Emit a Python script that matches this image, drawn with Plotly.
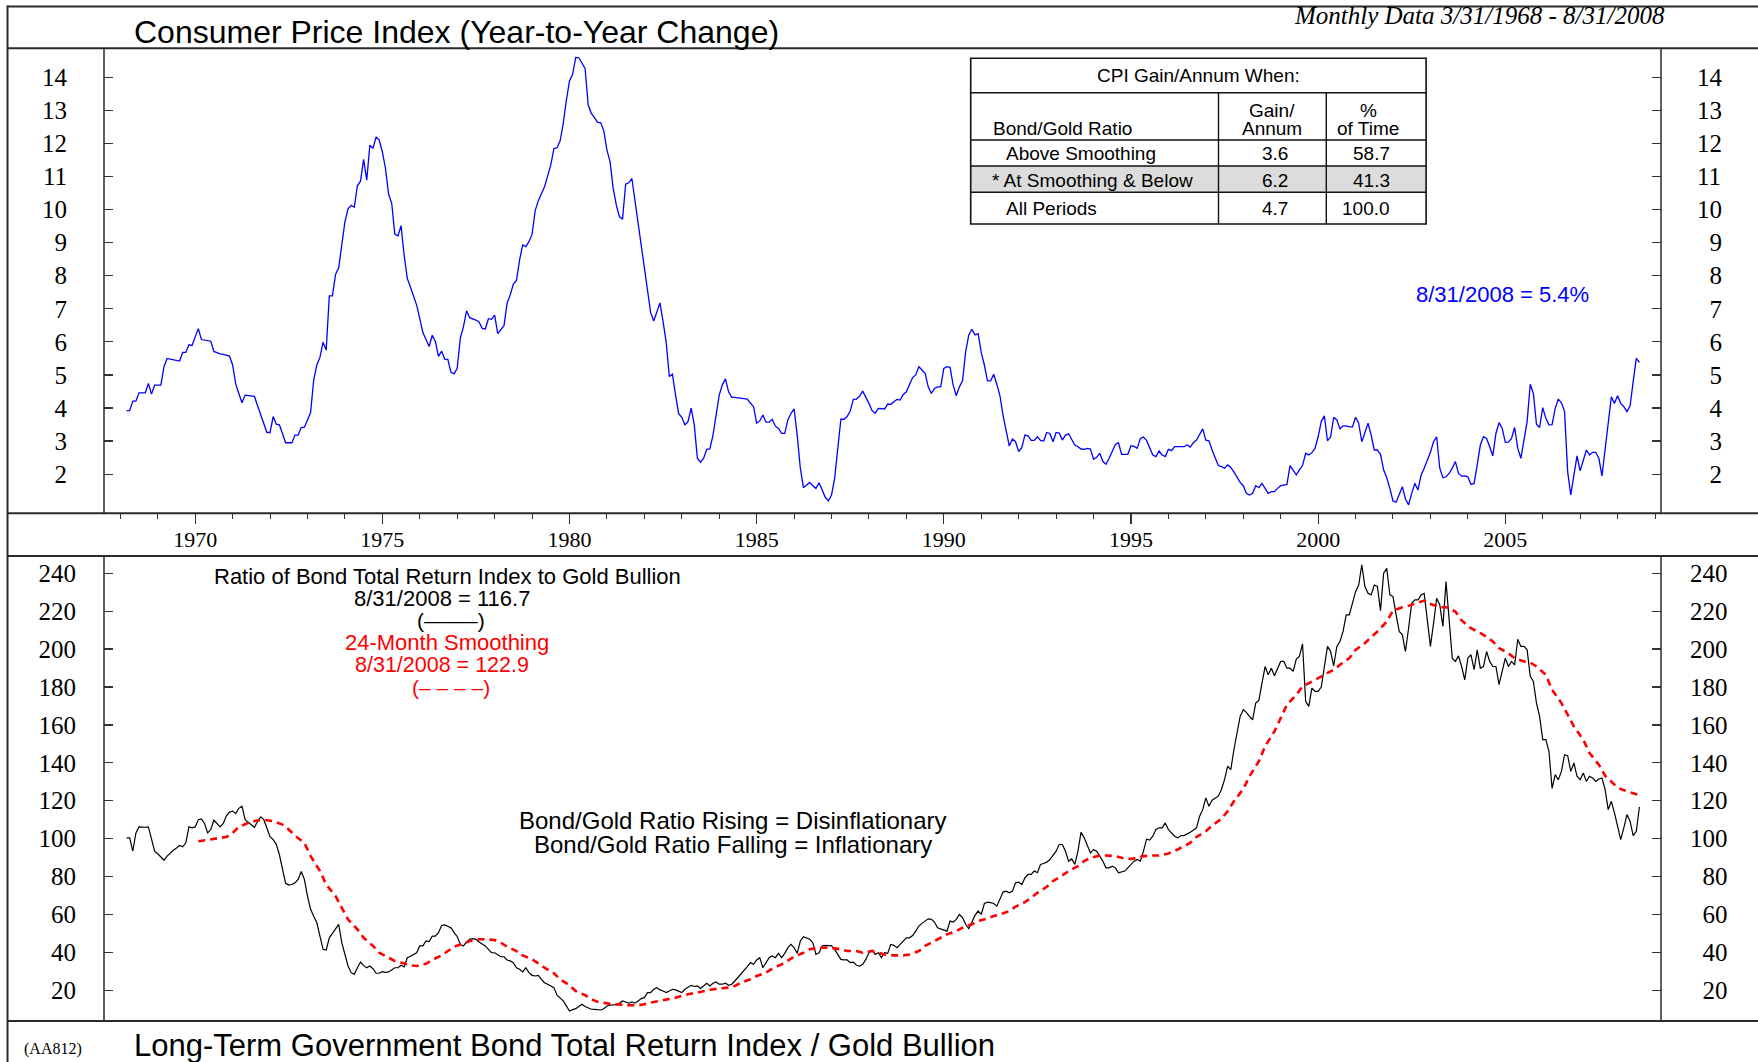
import plotly.graph_objects as go

# ---------------- data (monthly, first value = March 1968) ----------------
first_month_index = 2  # months after Jan-1968 (March 1968)

cpi_yoy = [
    3.92, 3.92, 4.21, 4.21, 4.46, 4.46, 4.46, 4.74, 4.42, 4.69,
    4.69, 4.69, 5.25, 5.50, 5.48, 5.46, 5.44, 5.42, 5.68, 5.68, 5.91, 5.89,
    6.15, 6.40, 6.07, 6.05, 6.03, 6.02, 5.71, 5.67, 5.64, 5.62, 5.60, 5.57,
    5.30, 4.72, 4.44, 4.16, 4.39, 4.38, 4.37, 4.35, 4.07, 3.79, 3.52, 3.26,
    3.26, 3.74, 3.51, 3.49, 3.22, 2.95, 2.95, 2.95, 3.18, 3.18, 3.41, 3.42,
    3.64, 3.86, 4.85, 5.30, 5.53, 5.99, 5.75, 7.39, 7.39, 8.04, 8.24, 9.03,
    9.63, 10.02, 10.13, 10.07, 10.72, 10.86, 11.52, 10.89, 11.95, 11.85, 12.20, 12.10,
    11.75, 11.25, 10.47, 10.19, 9.26, 9.20, 9.51, 8.61, 7.92, 7.66, 7.40, 7.11,
    6.70, 6.28, 6.07, 5.86, 6.20, 6.01, 5.56, 5.72, 5.48, 5.47, 5.08, 5.03,
    5.20, 6.11, 6.46, 6.94, 6.73, 6.70, 6.66, 6.60, 6.41, 6.39, 6.70, 6.68,
    6.81, 6.25, 6.37, 6.49, 7.17, 7.42, 7.75, 7.86, 8.48, 8.93, 8.88, 9.03,
    9.25, 9.97, 10.27, 10.48, 10.69, 11.02, 11.35, 11.84, 11.87, 12.08, 12.61, 13.31,
    13.89, 14.09, 14.60, 14.59, 14.43, 14.27, 13.16, 12.91, 12.78, 12.64, 12.63, 12.38,
    11.80, 11.45, 10.64, 10.14, 9.79, 9.71, 10.77, 10.81, 10.94, 10.24, 9.56, 8.88,
    8.27, 7.52, 6.89, 6.63, 6.93, 7.18, 6.61, 5.98, 4.95, 5.02, 4.39, 3.83,
    3.72, 3.49, 3.59, 4.00, 3.49, 2.48, 2.36, 2.48, 2.75, 2.76, 3.18, 3.79,
    4.39, 4.70, 4.88, 4.49, 4.32, 4.32, 4.31, 4.30, 4.29, 4.27, 4.15, 4.04,
    3.54, 3.61, 3.79, 3.57, 3.57, 3.66, 3.45, 3.38, 3.23, 3.23, 3.64, 3.84,
    3.97, 3.18, 2.18, 1.59, 1.67, 1.75, 1.65, 1.57, 1.74, 1.54, 1.30, 1.19,
    1.37, 1.87, 2.83, 3.66, 3.66, 3.74, 3.91, 4.26, 4.27, 4.36, 4.51, 4.34,
    4.14, 3.92, 3.84, 3.99, 3.98, 3.97, 4.12, 4.11, 4.19, 4.26, 4.24, 4.41,
    4.49, 4.69, 4.92, 5.00, 5.25, 5.15, 5.05, 4.64, 4.44, 4.59, 4.64, 4.64,
    5.20, 5.25, 5.23, 4.69, 4.37, 4.64, 4.82, 5.70, 6.21, 6.38, 6.21, 6.25,
    5.68, 5.30, 4.82, 4.82, 5.02, 4.72, 4.37, 3.77, 3.31, 2.85, 3.06, 2.98,
    2.68, 2.80, 3.18, 3.16, 3.02, 3.02, 3.13, 3.02, 3.00, 3.26, 3.23, 2.98,
    3.26, 3.24, 3.03, 3.18, 3.22, 3.03, 2.88, 2.83, 2.76, 2.75, 2.78, 2.76,
    2.45, 2.51, 2.63, 2.38, 2.30, 2.48, 2.70, 2.90, 2.95, 2.60, 2.60, 2.60,
    2.86, 2.84, 2.78, 3.08, 3.12, 3.02, 2.80, 2.58, 2.53, 2.70, 2.58, 2.53,
    2.75, 2.71, 2.83, 2.83, 2.82, 2.83, 2.88, 2.82, 2.95, 3.03, 3.20, 3.37,
    3.03, 3.01, 2.73, 2.48, 2.26, 2.23, 2.18, 2.28, 2.20, 2.07, 1.92, 1.75,
    1.65, 1.42, 1.37, 1.42, 1.65, 1.59, 1.72, 1.57, 1.42, 1.47, 1.47, 1.57,
    1.65, 1.67, 1.69, 2.26, 2.13, 1.98, 2.13, 2.26, 2.63, 2.58, 2.65, 2.78,
    3.13, 3.59, 3.76, 3.01, 3.13, 3.72, 3.64, 3.37, 3.46, 3.46, 3.43, 3.43,
    3.72, 3.54, 2.98, 3.28, 3.54, 3.18, 2.73, 2.73, 2.60, 2.13, 1.89, 1.57,
    1.19, 1.15, 1.37, 1.62, 1.25, 1.07, 1.42, 1.72, 1.52, 1.97, 2.18, 2.40,
    2.66, 2.98, 3.13, 2.18, 1.89, 1.92, 2.02, 2.18, 2.38, 2.02, 1.94, 1.95,
    1.92, 1.69, 1.72, 2.28, 2.88, 3.13, 3.08, 2.83, 2.55, 3.23, 3.56, 3.39,
    2.96, 2.97, 3.08, 3.41, 2.78, 2.48, 3.03, 3.59, 4.72, 4.44, 3.51, 3.41,
    4.01, 3.69, 3.49, 3.50, 3.99, 4.27, 4.16, 3.89, 2.07, 1.37, 1.97, 2.55,
    2.10, 2.43, 2.73, 2.58, 2.66, 2.66, 2.48, 1.95, 2.73, 3.54, 4.34, 4.14,
    4.37, 4.14, 4.04, 3.89, 4.06, 4.80, 5.50, 5.38,
]

bond_gold_ratio = [
    100.4, 100.4, 93.4, 103.0, 106.2, 106.0, 106.0, 106.2, 99.5, 93.4,
    92.0, 90.0, 88.6, 90.8, 92.5, 93.9, 95.0, 96.4, 95.7, 97.8, 106.2, 105.7,
    106.2, 110.0, 110.4, 108.0, 103.0, 104.8, 109.7, 107.9, 106.2, 108.0, 112.0, 114.0,
    114.5, 113.2, 116.0, 117.1, 110.0, 108.6, 107.5, 106.0, 109.0, 111.5, 110.0, 106.0,
    101.0, 99.5, 97.0, 91.5, 83.7, 76.4, 75.5, 75.8, 76.7, 78.5, 82.7, 78.5,
    69.7, 62.7, 59.0, 55.6, 48.6, 41.6, 41.2, 47.7, 50.0, 52.1, 54.8, 45.1,
    38.1, 32.8, 29.3, 28.4, 31.9, 34.9, 33.0, 31.9, 32.8, 31.4, 29.0, 29.0,
    29.8, 29.5, 29.7, 30.7, 31.9, 31.9, 33.2, 32.3, 37.2, 38.0, 38.9, 39.8,
    43.4, 43.4, 46.0, 45.7, 48.6, 48.6, 50.4, 54.2, 54.5, 53.9, 53.0, 50.4,
    48.4, 44.2, 43.4, 45.5, 46.9, 47.2, 46.9, 45.5, 44.5, 43.4, 41.6, 39.8,
    39.8, 38.8, 37.7, 37.7, 36.0, 35.5, 34.6, 31.9, 31.1, 29.7, 31.9, 29.3,
    27.9, 27.55, 27.9, 25.8, 24.0, 23.2, 22.5, 21.4, 17.4, 16.1, 14.4, 11.75,
    9.1, 9.8, 10.3, 11.4, 12.6, 11.4, 10.7, 10.0, 9.9, 9.6, 9.6, 10.3,
    11.75, 12.1, 12.1, 12.45, 13.2, 14.4, 13.8, 13.2, 13.9, 13.2, 14.4, 15.6,
    16.1, 18.8, 18.8, 20.5, 21.4, 20.2, 19.6, 18.8, 19.6, 20.5, 20.2, 19.6,
    18.8, 20.5, 21.4, 22.6, 22.0, 22.3, 20.9, 22.3, 23.7, 22.3, 23.7, 24.4,
    23.2, 23.2, 23.7, 22.6, 23.2, 24.9, 26.7, 28.4, 30.2, 32.5, 34.6, 33.7,
    36.0, 37.2, 31.9, 34.6, 37.2, 38.1, 37.2, 39.5, 37.2, 39.5, 42.5, 44.2,
    42.5, 39.5, 46.0, 48.3, 47.7, 46.9, 45.1, 38.9, 39.8, 43.4, 43.7, 43.4,
    43.4, 41.6, 38.9, 36.3, 36.0, 36.0, 34.6, 34.9, 33.2, 32.8, 33.7, 36.3,
    39.8, 41.2, 38.9, 39.8, 37.2, 39.8, 39.5, 44.2, 43.7, 42.5, 44.2, 46.0,
    47.7, 47.7, 48.9, 51.2, 53.9, 55.3, 56.5, 57.7, 57.4, 56.0, 53.0, 52.5,
    51.8, 51.2, 56.5, 56.0, 57.4, 60.0, 58.3, 54.8, 52.5, 56.5, 59.5, 61.8,
    60.0, 65.8, 66.5, 66.2, 65.8, 64.4, 68.0, 71.8, 72.3, 71.4, 72.3, 76.7,
    77.0, 75.8, 79.3, 81.1, 81.1, 82.9, 82.0, 86.4, 86.9, 87.6, 89.0, 91.1,
    93.4, 96.9, 96.9, 93.4, 88.1, 89.3, 86.4, 93.4, 103.4, 100.4, 96.0, 92.5,
    94.3, 93.4, 90.8, 88.1, 84.6, 84.6, 85.5, 84.6, 82.0, 82.3, 82.9, 84.6,
    86.4, 88.1, 89.0, 88.1, 93.4, 99.7, 99.2, 101.3, 104.8, 105.7, 105.7, 108.3,
    104.8, 103.0, 101.3, 100.4, 101.6, 101.6, 102.7, 103.4, 104.4, 105.7, 111.8, 115.3,
    121.5, 117.1, 120.3, 121.5, 122.4, 125.9, 131.1, 138.2, 136.4, 146.9, 154.8, 164.5,
    168.0, 166.6, 164.5, 162.7, 171.5, 172.9, 182.0, 190.8, 186.4, 189.9, 185.9, 189.4,
    193.5, 193.5, 189.9, 189.9, 188.2, 194.7, 196.1, 202.8, 172.4, 169.8, 179.4, 177.7,
    177.7, 180.0, 190.8, 201.4, 198.7, 191.2, 201.4, 204.0, 209.3, 218.0, 218.0, 224.2,
    230.3, 233.8, 244.4, 233.0, 229.4, 228.6, 233.8, 233.0, 220.3, 240.0, 242.6, 228.6,
    227.7, 218.0, 209.3, 207.5, 198.7, 211.0, 224.2, 226.0, 226.0, 228.6, 229.4, 215.4,
    201.4, 213.6, 226.8, 223.3, 211.9, 235.6, 217.2, 195.2, 193.5, 196.4, 190.8, 183.8,
    195.2, 197.0, 189.1, 199.6, 189.9, 190.8, 198.7, 193.5, 190.8, 190.8, 181.2, 189.1,
    195.2, 190.8, 193.5, 191.7, 205.2, 201.4, 201.4, 199.6, 185.6, 182.9, 171.5, 164.5,
    152.2, 152.2, 146.1, 126.5, 133.8, 131.1, 135.5, 144.3, 143.8, 135.5, 139.9, 132.9,
    131.1, 134.6, 130.2, 132.9, 132.0, 130.2, 131.5, 132.0, 125.9, 115.3, 119.7, 113.6,
    106.6, 99.5, 105.7, 112.7, 109.2, 101.6, 103.9, 116.7,
]

# 24-month smoothing (months after Jan-1968, value)
smooth_month = [25, 28, 31, 34, 36, 38, 41, 44, 47, 49, 52, 54, 56, 59, 61, 64, 66, 69, 71, 73,
                76, 78, 81, 83, 86, 88, 90, 93, 95, 98, 100, 103, 105, 107, 110, 112, 115, 117, 120, 122,
                124, 127, 129, 132, 134, 136, 139, 141, 144, 146, 149, 151, 153, 156, 158, 161, 163, 166, 168, 170,
                173, 175, 178, 180, 182, 185, 187, 190, 192, 195, 197, 199, 202, 204, 207, 209, 212, 214, 216, 219,
                221, 224, 226, 229, 231, 233, 236, 238, 241, 243, 245, 248, 251, 253, 256, 258, 261, 263, 265, 268,
                270, 273, 275, 278, 280, 282, 285, 287, 290, 292, 294, 297, 299, 302, 304, 307, 309, 311, 314, 316,
                319, 321, 324, 326, 328, 331, 333, 336, 338, 340, 343, 345, 348, 350, 353, 355, 357, 360, 362, 365,
                367, 370, 372, 374, 377, 379, 382, 384, 387, 389, 391, 394, 396, 399, 401, 403, 406, 408, 411, 413,
                416, 418, 420, 423, 425, 428, 430, 433, 435, 437, 440, 442, 445, 447, 450, 452, 454, 457, 459, 462,
                464, 466, 469, 471, 474, 476, 479, 481, 483, 486, 487]
smooth_value = [98.6, 99.5, 100.2, 100.9, 103.0, 106.2, 108.3, 109.7, 109.7, 109.2,
                107.4, 104.8, 101.6, 97.8, 90.8, 82.9, 75.8, 69.7, 63.5, 57.4,
                52.1, 47.7, 43.4, 39.8, 37.2, 35.5, 34.6, 33.2, 32.8, 34.0,
                36.0, 38.4, 40.7, 43.0, 44.6, 46.0, 46.9, 46.9, 46.5, 45.1,
                43.0, 40.7, 38.4, 36.3, 34.2, 31.9, 29.0, 25.8, 22.6, 19.6,
                17.4, 15.3, 13.9, 13.2, 12.6, 12.45, 12.1, 12.1, 12.6, 13.5,
                14.4, 15.3, 16.1, 17.0, 17.9, 18.8, 19.6, 20.5, 21.0, 21.4,
                22.3, 24.0, 25.8, 27.55, 29.3, 31.4, 33.7, 35.8, 37.7, 39.8,
                41.6, 42.5, 42.5, 42.1, 41.6, 40.7, 40.7, 39.8, 40.7, 39.8,
                38.9, 38.4, 38.4, 38.9, 40.7, 43.4, 46.0, 47.7, 49.5, 51.2,
                53.0, 54.8, 56.5, 57.9, 59.2, 60.0, 61.8, 64.1, 66.5, 68.8,
                71.4, 74.6, 77.6, 80.6, 82.9, 85.5, 88.1, 89.9, 91.1, 91.1,
                90.8, 89.9, 89.3, 89.9, 90.8, 91.1, 91.1, 92.2, 93.4, 95.2,
                97.8, 100.9, 103.9, 106.9, 110.4, 114.5, 119.7, 126.2, 132.9, 140.8,
                148.7, 156.6, 163.6, 170.6, 175.9, 180.3, 182.9, 184.7, 187.3, 189.1,
                191.7, 195.2, 199.6, 203.1, 206.3, 209.3, 214.5, 220.3, 222.1, 222.8,
                224.5, 225.6, 223.8, 222.1, 222.1, 219.8, 215.1, 211.0, 209.3, 207.5,
                204.0, 200.5, 197.8, 195.2, 193.5, 192.9, 190.8, 186.4, 178.5, 171.5,
                165.4, 159.2, 152.2, 145.2, 139.0, 133.2, 128.5, 126.2, 125.0, 123.2,
                122.9]

year_ticks = [1970, 1975, 1980, 1985, 1990, 1995, 2000, 2005]
cpi_ticks = [2, 3, 4, 5, 6, 7, 8, 9, 10, 11, 12, 13, 14]
ratio_ticks = [20, 40, 60, 80, 100, 120, 140, 160, 180, 200, 220, 240]

table_title = "CPI Gain/Annum When:"
table_rows = ["Above Smoothing", "* At Smoothing & Below", "All Periods"]
table_gain = ["3.6", "6.2", "4.7"]
table_pct = ["58.7", "41.3", "100.0"]

# ---------------- helpers ----------------
W, H = 1758, 1062


def px(x):
    return x / W


def py(y):
    return 1 - y / H


def month_to_year(n):
    return 1968 + n / 12.0


cpi_x = [month_to_year(first_month_index + i) for i in range(len(cpi_yoy))]
ratio_x = [month_to_year(first_month_index + i) for i in range(len(bond_gold_ratio))]
n_s = min(len(smooth_month), len(smooth_value))
smooth_x = [month_to_year(m) for m in smooth_month[:n_s]]
smooth_y = smooth_value[:n_s]

PL, PR = 104, 1661
TOP_T, TOP_B = 48.3, 513.3
BOT_T, BOT_B = 556, 1021

SERIF = "Liberation Serif"
SANS = "Liberation Sans"
AXC = "#333333"

fig = go.Figure()
fig.add_trace(go.Scatter(x=cpi_x, y=cpi_yoy, mode="lines",
                         line=dict(color="#0000ff", width=1.3),
                         xaxis="x", yaxis="y", hoverinfo="skip"))
fig.add_trace(go.Scatter(x=ratio_x, y=bond_gold_ratio, mode="lines",
                         line=dict(color="#000000", width=1.2),
                         xaxis="x2", yaxis="y2", hoverinfo="skip"))
fig.add_trace(go.Scatter(x=smooth_x, y=smooth_y, mode="lines",
                         line=dict(color="#ff0000", width=2.6, dash="7px,5px"),
                         xaxis="x2", yaxis="y2", hoverinfo="skip"))
# invisible copies so the right-hand axes are drawn
fig.add_trace(go.Scatter(x=cpi_x, y=cpi_yoy, mode="lines", line=dict(width=0),
                         opacity=0, xaxis="x", yaxis="y3", hoverinfo="skip"))
fig.add_trace(go.Scatter(x=ratio_x, y=bond_gold_ratio, mode="lines", line=dict(width=0),
                         opacity=0, xaxis="x2", yaxis="y4", hoverinfo="skip"))

xrange = [1967.564, 2009.16]
top_range = [0.816, 14.877]
bot_range = [3.8, 249.1]


def pad_labels(vals, width):
    out = []
    for v in vals:
        s = str(v)
        out.append("\u00a0\u00a0" * (width - len(s)) + s)
    return out


common_y = dict(showgrid=False, zeroline=False, showline=False, ticks="inside",
                ticklen=9, tickwidth=1.2, tickcolor=AXC,
                tickfont=dict(family=SERIF, size=25, color="#000"), fixedrange=True)

fig.update_layout(
    width=W, height=H, margin=dict(l=0, r=0, t=0, b=0),
    paper_bgcolor="white", plot_bgcolor="white", showlegend=False,
    xaxis=dict(domain=[px(PL), px(PR)], range=xrange, anchor="y",
               tickmode="array", tickvals=year_ticks, ticktext=[str(v) for v in year_ticks],
               ticks="outside", ticklen=10, tickwidth=1.2, tickcolor=AXC,
               minor=dict(dtick=1, tick0=1970, ticks="outside", ticklen=5, tickwidth=1, tickcolor=AXC),
               showgrid=False, zeroline=False, showline=False,
               tickfont=dict(family=SERIF, size=22, color="#000"), ticklabelstandoff=-4),
    xaxis2=dict(domain=[px(PL), px(PR)], range=xrange, anchor="y2", matches="x",
                showticklabels=False, ticks="", showgrid=False, zeroline=False, showline=False),
    yaxis=dict(domain=[py(TOP_B), py(TOP_T)], range=top_range, anchor="x", side="left",
               tickmode="array", tickvals=cpi_ticks, ticktext=[str(v) for v in cpi_ticks],
               ticklabelstandoff=36, **common_y),
    yaxis3=dict(range=top_range, anchor="x", overlaying="y", side="right",
                tickmode="array", tickvals=cpi_ticks, ticktext=pad_labels(cpi_ticks, 2),
                ticklabelstandoff=35, **common_y),
    yaxis2=dict(domain=[py(BOT_B), py(BOT_T)], range=bot_range, anchor="x2", side="left",
                tickmode="array", tickvals=ratio_ticks, ticktext=[str(v) for v in ratio_ticks],
                ticklabelstandoff=27, **common_y),
    yaxis4=dict(range=bot_range, anchor="x2", overlaying="y2", side="right",
                tickmode="array", tickvals=ratio_ticks, ticktext=pad_labels(ratio_ticks, 3),
                ticklabelstandoff=28, **common_y),
)

# ---------------- frame lines ----------------
shapes = []


def hline(y, x0=7, x1=W, w=2.0, color="#2a2a2a"):
    shapes.append(dict(type="line", xref="paper", yref="paper", x0=px(x0), x1=px(x1),
                       y0=py(y), y1=py(y), line=dict(color=color, width=w)))


def vline(x, y0, y1, w=2.0, color="#2a2a2a"):
    shapes.append(dict(type="line", xref="paper", yref="paper", x0=px(x), x1=px(x),
                       y0=py(y0), y1=py(y1), line=dict(color=color, width=w)))


hline(6.5)
vline(7.5, 5.5, H)
hline(TOP_T)
hline(TOP_B)
hline(BOT_T)
hline(BOT_B)
vline(PL, TOP_T, TOP_B, w=1.5)
vline(PR, TOP_T, TOP_B, w=1.5)
vline(PL, BOT_T, BOT_B, w=1.5)
vline(PR, BOT_T, BOT_B, w=1.5)

# ---------------- table ----------------
TL, TR, TT, TB = 970.7, 1426.1, 58.3, 224.0
C1, C2 = 1218.5, 1326.3
R0, R1, R2, R3 = 92.7, 140.0, 166.0, 192.3
shapes.append(dict(type="rect", xref="paper", yref="paper", x0=px(TL), x1=px(TR),
                   y0=py(R3), y1=py(R2), fillcolor="#dcdcdc", line=dict(width=0), layer="above"))
shapes.append(dict(type="rect", xref="paper", yref="paper", x0=px(TL), x1=px(TR),
                   y0=py(TB), y1=py(TT), line=dict(color="#111", width=1.6), layer="above"))
for yy in (R0, R1, R2, R3):
    hline(yy, TL, TR, w=1.4, color="#111")
vline(C1, R0, TB, w=1.4, color="#111")
vline(C2, R0, TB, w=1.4, color="#111")

fig.update_layout(shapes=shapes)

# ---------------- annotations ----------------
ann = []


def text(x, y, s, size, color="#000", family=SANS, xanchor="center"):
    ann.append(dict(x=px(x), y=py(y), xref="paper", yref="paper", text=s, showarrow=False,
                    xanchor=xanchor, yanchor="middle",
                    font=dict(family=family, size=size, color=color)))


text(132, 31.5, "Consumer Price Index (Year-to-Year Change)", 32, xanchor="left")
text(1667, 15, "<i>Monthly Data 3/31/1968 - 8/31/2008</i>", 25, family=SERIF, xanchor="right")
text(132, 1045, "Long-Term Government Bond Total Return Index / Gold Bullion", 31, xanchor="left")
text(52.6, 1049, "(AA812)", 16, family=SERIF)
text(1502, 294.3, "8/31/2008 = 5.4%", 22, color="#0000ff")

TF = 19
text(1198.4, 76, table_title, TF)
text(990.8, 128.3, "Bond/Gold Ratio", TF, xanchor="left")
text(1272.4, 110.7, "Gain/", TF)
text(1272.4, 128.3, "Annum", TF)
text(1368, 110.7, "%", TF)
text(1368, 128.3, "of Time", TF)
row_y = [154, 180, 208]
for i, lab in enumerate(table_rows):
    lx = 989.5 if lab.startswith("*") else 1004
    text(lx, row_y[i], lab, TF, xanchor="left")
    text(1290, row_y[i], table_gain[i], TF, xanchor="right")
    text(1392, row_y[i], table_pct[i], TF, xanchor="right")

text(448, 576, "Ratio of Bond Total Return Index to Gold Bullion", 22)
text(441.8, 598.5, "8/31/2008 = 116.7", 22)
text(451, 620.5, "(\u2014\u2014\u2013)", 21)
text(447.3, 642.5, "24-Month Smoothing", 22, color="#ff0000")
text(441.6, 664.6, "8/31/2008 = 122.9", 21.5, color="#ff0000")
text(451, 687, "(\u2013 \u2013 \u2013 \u2013)", 21, color="#ff0000")
text(732.7, 820, "Bond/Gold Ratio Rising = Disinflationary", 24)
text(732.5, 844, "Bond/Gold Ratio Falling = Inflationary", 24)

fig.update_layout(annotations=ann)

fig.write_html("out.html",
               config={"displayModeBar": False, "staticPlot": True},
               post_script="document.body.style.margin='0px';document.body.style.overflow='hidden';")
